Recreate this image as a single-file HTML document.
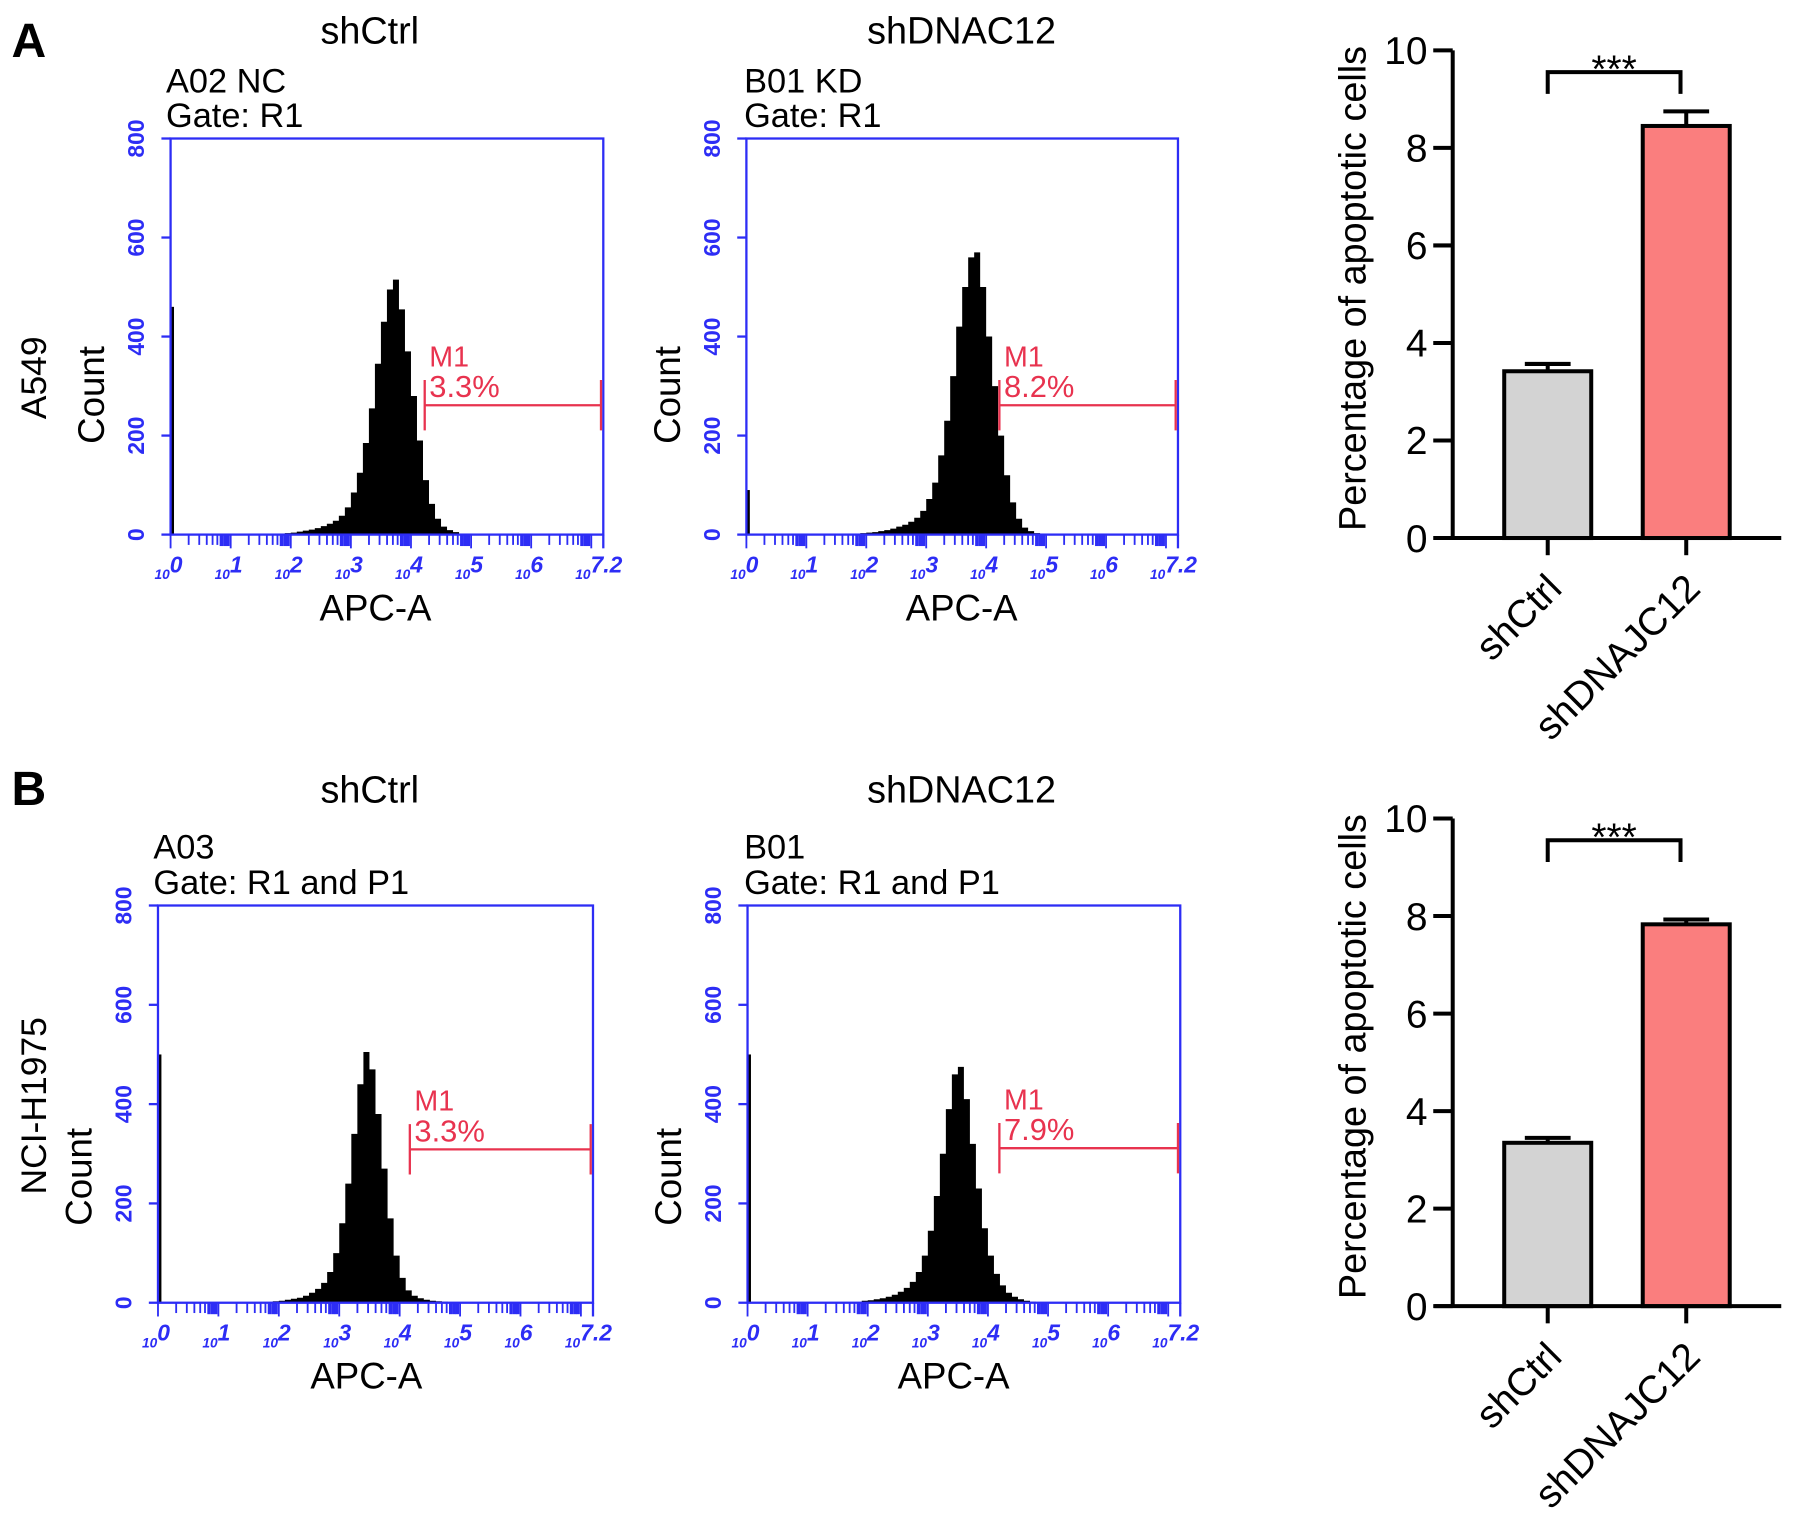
<!DOCTYPE html>
<html><head><meta charset="utf-8"><style>
html,body{margin:0;padding:0;background:#fff;}
svg{display:block;font-family:"Liberation Sans",Arial,sans-serif;}
</style></head>
<body>
<svg id="fig" width="1795" height="1531" viewBox="0 0 1568 1337.4" xmlns="http://www.w3.org/2000/svg">
<text x="10" y="50" font-size="42" font-weight="bold">A</text>
<text x="10" y="703" font-size="42" font-weight="bold">B</text>
<text x="40" y="330" font-size="31" text-anchor="middle" transform="rotate(-90 40 330)">A549</text>
<text x="40" y="966" font-size="31" text-anchor="middle" transform="rotate(-90 40 966)">NCI-H1975</text>
</svg>
<script>
// ---- histogram data (counts per 0.1-decade bin, starting at log10 = 1.9) ----
const binStart = 1.9;
const binWidth = 0.1;
const hist1Counts = [3,4,6,8,10,13,17,22,28,38,55,85,125,185,255,345,430,495,515,455,370,280,190,110,62,32,16,9,5,2];
const hist2Counts = [3,4,5,7,9,12,16,20,26,34,48,72,105,160,230,320,420,500,560,570,500,400,300,200,120,65,32,14,7,3];
const hist3Counts = [3,4,6,8,10,14,20,28,40,62,100,160,240,340,440,505,470,380,270,170,95,50,25,14,9,6,4,3,2,1];
const hist4Counts = [4,5,7,9,12,16,22,30,42,62,95,145,215,300,390,460,475,410,320,230,150,95,58,35,20,12,7,4,2,1];
const spikeCounts = [460, 90, 500, 500];
const gatePercents = ['3.3%', '8.2%', '3.3%', '7.9%'];
const countTicks = [0, 200, 400, 600, 800];
const decadeTicks = [0, 1, 2, 3, 4, 5, 6, 7];
// ---- bar data ----
const barCategories = ['shCtrl', 'shDNAJC12'];
const barValuesA = [3.42, 8.45];
const barErrorsA = [0.15, 0.3];
const barValuesB = [3.35, 7.83];
const barErrorsB = [0.1, 0.1];
const barTicks = [0, 2, 4, 6, 8, 10];

const NS = 'http://www.w3.org/2000/svg';
const svg = document.getElementById('fig');
function mk(tag, attrs, parent, txt) {
  const e = document.createElementNS(NS, tag);
  for (const k in attrs) e.setAttribute(k, attrs[k]);
  if (txt !== undefined) e.textContent = txt;
  (parent || svg).appendChild(e);
  return e;
}
const BLUE = '#2d2df5', RED = '#e8334f';

function drawHist(cfg, counts, spike, pct) {
  const g = mk('g', {});
  
  
  const L = cfg.x0, R = cfg.x1, T = cfg.y0, B = cfg.y1;
  const xs = v => L + (R - L) * v / 7.2;
  const ys = c => B - (B - T) * c / 800;
  const t = mk('text', {x: cfg.tx, y: cfg.ty, 'font-size': 33, 'text-anchor': 'middle'}, g, cfg.title);
  
  
  const s1 = mk('text', {x: cfg.sx, y: cfg.sy1, 'font-size': 30}, g, cfg.sub1);
  
  
  const s2 = mk('text', {x: cfg.sx, y: cfg.sy2, 'font-size': 30}, g, cfg.sub2);
  
  
  let d = 'M' + xs(binStart) + ',' + B;
  counts.forEach((c, i) => {
    const xa = xs(binStart + i * binWidth), xb = xs(binStart + (i + 1) * binWidth);
    d += ' L' + xa + ',' + ys(c) + ' L' + xb + ',' + ys(c);
  });
  d += ' L' + xs(binStart + counts.length * binWidth) + ',' + B + ' Z';
  const h = mk('path', {d: d, fill: '#000'}, g);
  
  
  const sp = mk('rect', {x: L, y: ys(spike), width: 3, height: B - ys(spike), fill: '#000'}, g);
  
  
  const fr = mk('rect', {x: L, y: T, width: R - L, height: B - T, fill: 'none', stroke: BLUE, 'stroke-width': 2}, g);
  
  
  countTicks.forEach(v => {
    const y = ys(v);
    mk('line', {x1: L - 8, x2: L, y1: y, y2: y, stroke: BLUE, 'stroke-width': 2}, g);
    const lb = mk('text', {x: L - 30, y: y, 'font-size': 20, 'font-weight': 'bold', fill: BLUE, 'text-anchor': 'middle', transform: 'rotate(-90 ' + (L - 30) + ' ' + y + ')', 'dominant-baseline': 'central'}, g, String(v));
    
    
  });
  for (let dcd = 0; dcd < 8; dcd++) {
    for (let k = 1; k <= 9; k++) {
      const v = dcd + Math.log10(k);
      if (v > 7.2) continue;
      const x = xs(v);
      mk('line', {x1: x, x2: x, y1: B, y2: B + (k === 1 ? 12 : (k >= 7 ? 10 : 9)), stroke: BLUE, 'stroke-width': k >= 7 ? 3 : 1.6}, g);
    }
  }
  mk('line', {x1: R, x2: R, y1: B, y2: B + 12, stroke: BLUE, 'stroke-width': 2}, g);
  decadeTicks.forEach(v => {
    const x = xs(v);
    const lb = mk('text', {x: x - 14, y: B + 39, 'font-size': 12, fill: BLUE, 'font-weight': 'bold', 'font-style': 'italic'}, g);
    
    
    mk('tspan', {}, lb, '10');
    mk('tspan', {dy: -6, 'font-size': 20}, lb, v === 7 ? '7.2' : String(v));
  });
  const xt = mk('text', {x: cfg.ax, y: B + 75, 'font-size': 32, 'text-anchor': 'middle'}, g, 'APC-A');
  
  
  const yt = mk('text', {x: L - 58, y: cfg.cy, 'font-size': 32, 'text-anchor': 'middle', transform: 'rotate(-90 ' + (L - 58) + ' ' + cfg.cy + ')'}, g, 'Count');
  
  
  const gx = cfg.gx, gy = cfg.gy;
  const gate = mk('path', {d: 'M' + gx + ',' + (gy - 22) + ' V' + (gy + 22) + ' M' + gx + ',' + gy + ' H' + (R - 2) + ' M' + (R - 2) + ',' + (gy - 22) + ' V' + (gy + 22), stroke: RED, 'stroke-width': 2, fill: 'none'}, g);
  
  
  const m1 = mk('text', {x: gx + 4, y: gy - 34, 'font-size': 25, fill: RED}, g, 'M1');
  
  
  const pc = mk('text', {x: gx + 4, y: gy - 7, 'font-size': 27, fill: RED}, g, pct);
  
  
}

drawHist({name:'histogram-a549-shctrl', x0:149, x1:527, y0:121, y1:467, title:'shCtrl', tx:323, ty:38, sub1:'A02 NC', sub2:'Gate: R1', sx:145, sy1:81, sy2:111, ax:328, cy:345, gx:371, gy:354}, hist1Counts, spikeCounts[0], gatePercents[0]);
drawHist({name:'histogram-a549-shdnac12', x0:652, x1:1029, y0:121, y1:467, title:'shDNAC12', tx:840, ty:38, sub1:'B01 KD', sub2:'Gate: R1', sx:650, sy1:81, sy2:111, ax:840, cy:345, gx:873, gy:354}, hist2Counts, spikeCounts[1], gatePercents[1]);
drawHist({name:'histogram-h1975-shctrl', x0:138, x1:518, y0:791, y1:1138, title:'shCtrl', tx:323, ty:701, sub1:'A03', sub2:'Gate: R1 and P1', sx:134, sy1:750, sy2:781, ax:320, cy:1028, gx:358, gy:1004}, hist3Counts, spikeCounts[2], gatePercents[2]);
drawHist({name:'histogram-h1975-shdnac12', x0:653, x1:1031, y0:791, y1:1138, title:'shDNAC12', tx:840, ty:701, sub1:'B01', sub2:'Gate: R1 and P1', sx:650, sy1:750, sy2:781, ax:833, cy:1028, gx:873, gy:1003}, hist4Counts, spikeCounts[3], gatePercents[3]);

function drawBars(cfg, values, errors) {
  const g = mk('g', {});
  
  
  const ax = 1269, top = cfg.top, bot = cfg.bot;
  const ys = v => bot - (bot - top) * v / 10;
  const centers = [1352, 1473];
  const fills = ['#d3d3d3', '#fa7e7e'];
  values.forEach((v, i) => {
    const cx = centers[i];
    const eb = mk('path', {d: 'M' + cx + ',' + ys(v) + ' V' + ys(v + errors[i]) + ' M' + (cx - 20) + ',' + ys(v + errors[i]) + ' H' + (cx + 20), stroke: '#000', 'stroke-width': 3.5, fill: 'none'}, g);
    
    
    const r = mk('rect', {x: cx - 38, y: ys(v), width: 76, height: bot - ys(v), fill: fills[i], stroke: '#000', 'stroke-width': 3.5}, g);
    
    
    mk('line', {x1: cx, x2: cx, y1: bot, y2: bot + 15, stroke: '#000', 'stroke-width': 3.5}, g);
    const lx = cx + 14, ly = bot + 46;
    const lb = mk('text', {x: lx, y: ly, 'font-size': 34, 'text-anchor': 'end', transform: 'rotate(-45 ' + lx + ' ' + ly + ')'}, g, barCategories[i]);
    
    
  });
  mk('line', {x1: ax, x2: ax, y1: top, y2: bot, stroke: '#000', 'stroke-width': 3.5}, g);
  mk('line', {x1: 1253, x2: 1556, y1: bot, y2: bot, stroke: '#000', 'stroke-width': 3.5}, g);
  barTicks.forEach(v => {
    mk('line', {x1: 1252, x2: ax, y1: ys(v), y2: ys(v), stroke: '#000', 'stroke-width': 3.5}, g);
    const lb = mk('text', {x: 1247, y: ys(v) + 12, 'font-size': 34, 'text-anchor': 'end'}, g, String(v));
    
    
  });
  const cyt = top + 208;
  const yt = mk('text', {x: 1193, y: cyt, 'font-size': 33, 'text-anchor': 'middle', transform: 'rotate(-90 1193 ' + cyt + ')'}, g, 'Percentage of apoptotic cells');
  
  
  const by = top + 19;
  const br = mk('path', {d: 'M1352,' + (by + 19) + ' V' + by + ' H1468 V' + (by + 19), stroke: '#000', 'stroke-width': 3.5, fill: 'none'}, g);
  
  
  const st = mk('text', {x: 1410, y: by + 9, 'font-size': 34, 'text-anchor': 'middle'}, g, '***');
  
  
}
drawBars({name:'bar-chart-a549', top:44, bot:470}, barValuesA, barErrorsA);
drawBars({name:'bar-chart-h1975', top:715, bot:1141}, barValuesB, barErrorsB);
</script>
</body></html>
